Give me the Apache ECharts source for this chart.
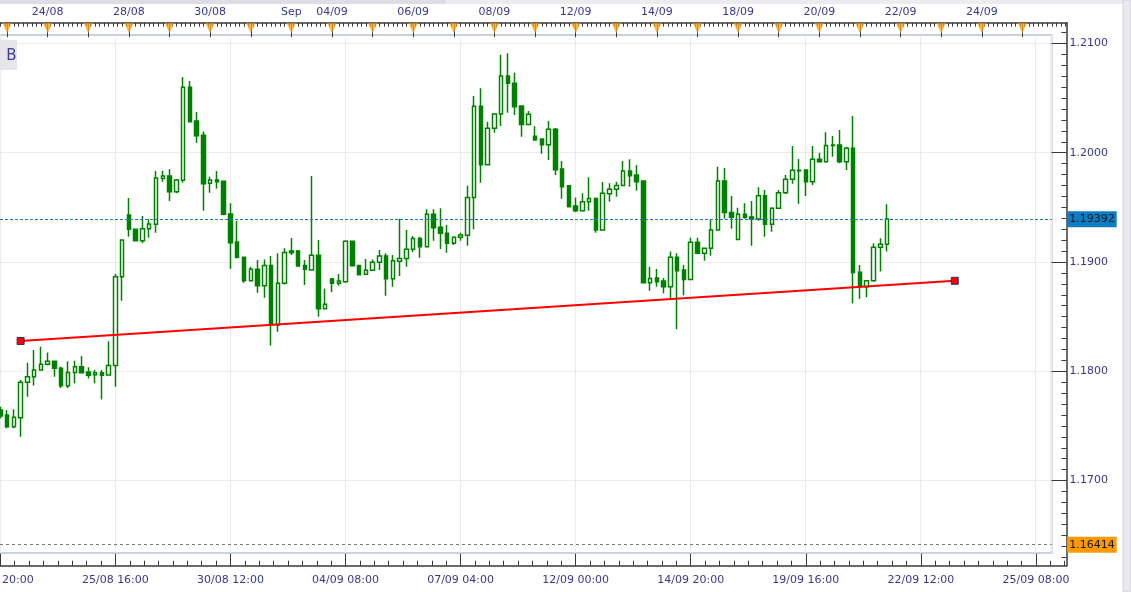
<!DOCTYPE html>
<html><head><meta charset="utf-8">
<script src="https://cdn.jsdelivr.net/npm/echarts@6/dist/echarts.min.js"></script>
<style>html,body{margin:0;padding:0;background:#fff;}#c{width:1131px;height:592px;}</style>
</head><body><div id="c"></div>
<script>
// ---- categories (4-hour candles) ----
const firstCandle = '22/08 20:00';
const tradingDays = ['23/08','24/08','25/08','28/08','29/08','30/08','31/08','01/09','04/09','05/09','06/09','07/09','08/09','11/09','12/09','13/09','14/09','15/09','18/09','19/09','20/09','21/09','22/09','23/09','24/09','25/09'];
const hours = ['00:00','04:00','08:00','12:00','16:00','20:00'];
const topLabelDays = ['24/08','28/08','30/08','01/09','04/09','06/09','08/09','12/09','14/09','18/09','20/09','22/09','24/09'];
const monthLabels = {'01/09': 'Sep'};
const priceTicks = [1.17, 1.18, 1.19, 1.20, 1.21];

// ---- OHLC values ----
const opens = [1.17646,1.17600,1.17493,1.17576,1.17899,1.17951,1.18012,1.18064,1.18091,1.18027,
1.17868,1.17990,1.18042,1.17993,1.17969,1.17987,1.17966,1.18054,1.18866,1.19430,
1.19299,1.19195,1.19305,1.19345,1.19765,1.19787,1.19643,1.19747,1.20598,1.20290,
1.20159,1.19720,1.19750,1.19738,1.19439,1.19183,1.19043,1.18829,1.18933,1.18783,
1.18969,1.18423,1.18805,1.19101,1.19101,1.18969,1.18927,1.19061,1.18573,1.18844,
1.18805,1.18820,1.19189,1.18969,1.18887,1.18924,1.18997,1.19055,1.18847,1.19006,
1.19033,1.19116,1.19216,1.19140,1.19436,1.19317,1.19262,1.19171,1.19226,1.19244,
1.19591,1.20424,1.19890,1.20223,1.20354,1.20702,1.20635,1.20427,1.20259,1.20150,
1.20125,1.20073,1.20214,1.19851,1.19698,1.19512,1.19470,1.19552,1.19582,1.19293,
1.19625,1.19665,1.19701,1.19833,1.19796,1.19741,1.18811,1.18853,1.18826,1.18774,
1.19043,1.18927,1.18841,1.19180,1.19079,1.19125,1.19293,1.19741,1.19454,1.19207,
1.19436,1.19412,1.19393,1.19607,1.19345,1.19491,1.19634,1.19756,1.19839,1.19842,
1.19735,1.19939,1.19918,1.20067,1.20070,1.19918,1.20040,1.18906,1.18774,1.18829,
1.19134,1.19162];
const closes = [1.17591,1.17493,1.17579,1.17899,1.17951,1.18012,1.18064,1.18091,1.18027,1.17868,
1.17990,1.18042,1.17987,1.17963,1.17987,1.17963,1.18054,1.18866,1.19201,1.19299,
1.19195,1.19305,1.19348,1.19768,1.19787,1.19643,1.19750,1.20598,1.20284,1.20156,
1.19717,1.19750,1.19735,1.19436,1.19177,1.19043,1.18829,1.18933,1.18783,1.18969,
1.18423,1.18805,1.19088,1.19085,1.18963,1.18933,1.19061,1.18573,1.18613,1.18805,
1.18826,1.19189,1.18966,1.18884,1.18924,1.18997,1.19055,1.18847,1.19012,1.19033,
1.19116,1.19216,1.19140,1.19436,1.19314,1.19262,1.19171,1.19226,1.19247,1.19591,
1.20424,1.19890,1.20223,1.20354,1.20702,1.20635,1.20421,1.20259,1.20351,1.20119,
1.20073,1.20214,1.19845,1.19689,1.19506,1.19470,1.19552,1.19582,1.19293,1.19628,
1.19665,1.19701,1.19833,1.19790,1.19735,1.18811,1.18850,1.18820,1.18774,1.19043,
1.18921,1.18841,1.19180,1.19079,1.19125,1.19293,1.19741,1.19454,1.19409,1.19436,
1.19409,1.19393,1.19607,1.19345,1.19491,1.19634,1.19756,1.19839,1.19836,1.19735,
1.19939,1.19918,1.20067,1.20070,1.19918,1.20040,1.18903,1.18774,1.18829,1.19134,
1.19162,1.19393];
const lows = [1.17569,1.17478,1.17478,1.17402,1.17768,1.17871,1.18006,1.18054,1.17951,1.17847,
1.17847,1.17890,1.17981,1.17935,1.17890,1.17743,1.17960,1.17859,1.18646,1.19232,
1.19189,1.19171,1.19222,1.19268,1.19735,1.19558,1.19628,1.19726,1.20281,1.20092,
1.19470,1.19634,1.19671,1.19427,1.18939,1.19033,1.18811,1.18823,1.18719,1.18673,
1.18237,1.18362,1.18795,1.19064,1.18957,1.18789,1.18921,1.18500,1.18570,1.18725,
1.18783,1.18811,1.18960,1.18881,1.18884,1.18921,1.18927,1.18692,1.18774,1.18872,
1.18957,1.19091,1.19039,1.19137,1.19195,1.19119,1.19085,1.19155,1.19195,1.19149,
1.19299,1.19726,1.19887,1.20183,1.20244,1.20366,1.20345,1.20147,1.20256,1.20107,
1.19991,1.19933,1.19796,1.19579,1.19500,1.19457,1.19467,1.19470,1.19268,1.19290,
1.19552,1.19598,1.19698,1.19689,1.19653,1.18808,1.18738,1.18774,1.18713,1.18661,
1.18384,1.18695,1.18838,1.19070,1.19012,1.19058,1.19287,1.19396,1.19305,1.19204,
1.19396,1.19149,1.19378,1.19232,1.19277,1.19488,1.19622,1.19717,1.19534,1.19604,
1.19705,1.19909,1.19915,1.19964,1.19903,1.19842,1.18622,1.18661,1.18677,1.18820,
1.18912,1.19095];
const highs = [1.17676,1.17646,1.17652,1.17920,1.18079,1.18195,1.18225,1.18173,1.18097,1.18042,
1.18091,1.18097,1.18140,1.18036,1.18012,1.18012,1.18274,1.18890,1.19207,1.19585,
1.19305,1.19421,1.19390,1.19832,1.19835,1.19848,1.19759,1.20693,1.20656,1.20372,
1.20195,1.19781,1.19832,1.19744,1.19537,1.19375,1.19049,1.18957,1.19018,1.19024,
1.19055,1.19079,1.19125,1.19220,1.19110,1.19018,1.19787,1.19201,1.18756,1.18854,
1.18890,1.19198,1.19195,1.18972,1.19027,1.19024,1.19110,1.19079,1.19064,1.19396,
1.19293,1.19238,1.19232,1.19482,1.19482,1.19491,1.19338,1.19232,1.19268,1.19698,
1.20519,1.20589,1.20284,1.20360,1.20897,1.20909,1.20732,1.20430,1.20381,1.20241,
1.20131,1.20290,1.20226,1.19924,1.19701,1.19590,1.19628,1.19775,1.19589,1.19732,
1.19720,1.19735,1.19924,1.19939,1.19887,1.19744,1.18957,1.18936,1.18853,1.19095,
1.19079,1.18972,1.19223,1.19223,1.19131,1.19393,1.19872,1.19860,1.19604,1.19497,
1.19537,1.19558,1.19683,1.19659,1.19500,1.19659,1.19796,1.20061,1.19942,1.19845,
1.20061,1.20000,1.20186,1.20153,1.20208,1.20055,1.20336,1.18972,1.18835,1.19171,
1.19217,1.19528];

// ---- drawn objects ----
const trendStart = [3, 1.18277];
const trendEnd = [141, 1.18828];
const lastPrice = 1.19392;
const levelPrice = 1.16414;

// ---- build tables ----
const categories = [firstCandle];
tradingDays.forEach(d => hours.forEach(h => categories.push(d + ' ' + h)));
categories.push('');
const N = categories.length; // 158
const candles = opens.map((o, i) => [o, closes[i], lows[i], highs[i]]);
const isDayStart = v => typeof v === 'string' && v.endsWith(' 00:00');
const dayStartIdx = [];
categories.forEach((c, i) => { if (isDayStart(c)) dayStartIdx.push(i); });

const Y_MIN = 1.162214, Y_MAX = 1.211894;       // main axes box 22.7..565.7
const F_MIN = 1.163376, F_MAX = 1.210769;       // plot frame 35..553
const minorY = []; for (let v = 1163; v <= 1211; v++) minorY.push(v / 1000);
const minorBottom = []; for (let k = 0; k * 2.125 <= N - 0.5; k++) minorBottom.push(k * 2.125);
const minorTop = []; for (let k = 0; k * 2 / 3 <= N - 0.5; k++) minorTop.push(k * 2 / 3);

const AX = '#3a3a3a';
const LBL = {color: '#38388a', fontFamily: 'DejaVu Sans', fontSize: 11};

function levelSeries(price, lineColor, dash, bg, fg) {
  return {type: 'line', xAxisIndex: 4, yAxisIndex: 2, data: [[0, price]], symbol: 'none', silent: true,
    color: lineColor, lineStyle: {width: 0},
    markLine: {symbol: 'none', silent: true, animation: false, precision: 5,
      lineStyle: {color: lineColor, type: dash, width: 1, opacity: 1},
      label: {show: true, position: 'end', distance: 15.5, formatter: p => Number(p.value).toFixed(5),
              backgroundColor: bg, color: fg, fontFamily: 'DejaVu Sans', fontSize: 11, padding: [3, 2, 2, 2]},
      data: [{yAxis: price}]}};
}

const chart = echarts.init(document.getElementById('c'), null, {renderer: 'canvas'});
chart.setOption({
  animation: false,
  backgroundColor: '#ffffff',
  grid: [
    {left: -3.08, right: 64.58, top: 22.7, bottom: 26.3, containLabel: false, outerBoundsMode: 'none'},
    {left: 0, right: 79.3, top: 35, bottom: 39, show: true, borderColor: '#c9d1dd', borderWidth: 2, backgroundColor: 'transparent', containLabel: false, outerBoundsMode: 'none'},
    {left: 0, right: 79.3, top: 43.4, bottom: 111.4, containLabel: false, outerBoundsMode: 'none'}
  ],
  xAxis: [
    {type: 'category', gridIndex: 0, position: 'bottom', data: categories, boundaryGap: true,
     axisLine: {show: true, onZero: false, lineStyle: {color: AX, width: 1.5}},
     axisTick: {show: true, interval: 16, alignWithLabel: true, inside: true, length: 12, lineStyle: {color: AX, width: 1}},
     axisLabel: Object.assign({interval: 16, margin: 9}, LBL),
     splitLine: {show: false}},
    {type: 'category', gridIndex: 0, position: 'top', data: categories, boundaryGap: true,
     axisLine: {show: true, onZero: false, lineStyle: {color: AX, width: 1.5}},
     axisTick: {show: true, interval: (i, v) => isDayStart(v), alignWithLabel: true, inside: true, length: 14.5, lineStyle: {color: AX, width: 1}},
     axisLabel: Object.assign({
        interval: (i, v) => isDayStart(v) && topLabelDays.indexOf(v.slice(0, 5)) >= 0,
        formatter: v => monthLabels[v.slice(0, 5)] || v.slice(0, 5),
        margin: 5}, LBL),
     splitLine: {show: false}},
    {type: 'value', gridIndex: 0, position: 'bottom', min: -0.5, max: N - 0.5,
     axisLine: {show: false, onZero: false}, axisLabel: {show: false}, splitLine: {show: false},
     axisTick: {show: true, customValues: minorBottom, inside: true, length: 5, lineStyle: {color: AX, width: 1}}},
    {type: 'value', gridIndex: 0, position: 'top', min: -0.5, max: N - 0.5,
     axisLine: {show: false, onZero: false}, axisLabel: {show: false}, splitLine: {show: false},
     axisTick: {show: true, customValues: minorTop, inside: true, length: 4, lineStyle: {color: AX, width: 1}}},
    {type: 'value', gridIndex: 1, min: -0.0443, max: 155.33, interval: 17,
     axisLine: {show: false, onZero: false}, axisTick: {show: false}, axisLabel: {show: false},
     splitLine: {show: true, lineStyle: {color: '#ebebeb', width: 1}}},
    {type: 'value', gridIndex: 2, min: 0, max: 1,
     axisLine: {show: false, onZero: false}, axisTick: {show: false}, axisLabel: {show: false}, splitLine: {show: false}}
  ],
  yAxis: [
    {type: 'value', gridIndex: 0, position: 'right', min: Y_MIN, max: Y_MAX,
     axisLine: {show: true, onZero: false, lineStyle: {color: AX, width: 1.5}},
     axisTick: {show: true, customValues: priceTicks, inside: true, length: 15, lineStyle: {color: AX, width: 1}},
     axisLabel: Object.assign({customValues: priceTicks, formatter: v => v.toFixed(4), margin: 3}, LBL),
     splitLine: {show: false}},
    {type: 'value', gridIndex: 0, position: 'right', min: Y_MIN, max: Y_MAX,
     axisLine: {show: false, onZero: false}, axisLabel: {show: false}, splitLine: {show: false},
     axisTick: {show: true, customValues: minorY, inside: true, length: 5, lineStyle: {color: AX, width: 1}}},
    {type: 'value', gridIndex: 1, min: F_MIN, max: F_MAX,
     axisLine: {show: false, onZero: false}, axisTick: {show: false}, axisLabel: {show: false}, splitLine: {show: false}},
    {type: 'value', gridIndex: 2, min: 117, max: 121, interval: 1,
     axisLine: {show: false, onZero: false}, axisTick: {show: false}, axisLabel: {show: false},
     splitLine: {show: true, lineStyle: {color: '#ebebeb', width: 1}}}
  ],
  series: [
    levelSeries(lastPrice, '#1578c0', [3, 2], '#0d7cc1', '#0d1a2a'),
    levelSeries(levelPrice, '#7a7a7a', [3, 3], '#ff9900', '#1a1a1a'),
    {type: 'candlestick', xAxisIndex: 0, yAxisIndex: 0, data: candles, barWidth: 4, z: 3,
     itemStyle: {color: '#ffffff', color0: '#008000', borderColor: '#008000', borderColor0: '#008000', borderWidth: 1.5}},
    {type: 'line', xAxisIndex: 0, yAxisIndex: 0, data: [trendStart, trendEnd], z: 5,
     symbol: 'rect', symbolSize: 7, showAllSymbol: true,
     itemStyle: {color: '#ff0000', borderColor: '#2e2e6e', borderWidth: 1},
     lineStyle: {color: '#ff0000', width: 2}},
    {type: 'scatter', xAxisIndex: 0, yAxisIndex: 0, data: dayStartIdx.map(i => [i, Y_MAX]), z: 6, clip: false, silent: true,
     symbol: 'path://M0,0L10,0L5,10Z', symbolSize: [9, 10], symbolOffset: [0, 5.5],
     itemStyle: {color: '#f7a11a'}}
  ],
  graphic: [
    {type: 'rect', shape: {x: 0, y: 0, width: 1131, height: 4}, style: {fill: '#ebebf0'}, silent: true, z: 100},
    {type: 'rect', shape: {x: 0, y: 0, width: 446, height: 4}, style: {fill: '#dcdde5'}, silent: true, z: 101},
    {type: 'rect', shape: {x: 1123, y: 0, width: 8, height: 592}, style: {fill: '#e8e8ee', stroke: '#d2d2dc', lineWidth: 1}, silent: true, z: 100},
    {type: 'rect', shape: {x: 0, y: 40, width: 17, height: 30}, style: {fill: '#e6e6ea'}, silent: true, z: 100},
    {type: 'text', x: 11.5, y: 56, style: {text: 'B', fill: '#3d3d99', font: '15px "DejaVu Sans"', align: 'center', verticalAlign: 'middle'}, silent: true, z: 101}
  ]
});
</script>
</body></html>
